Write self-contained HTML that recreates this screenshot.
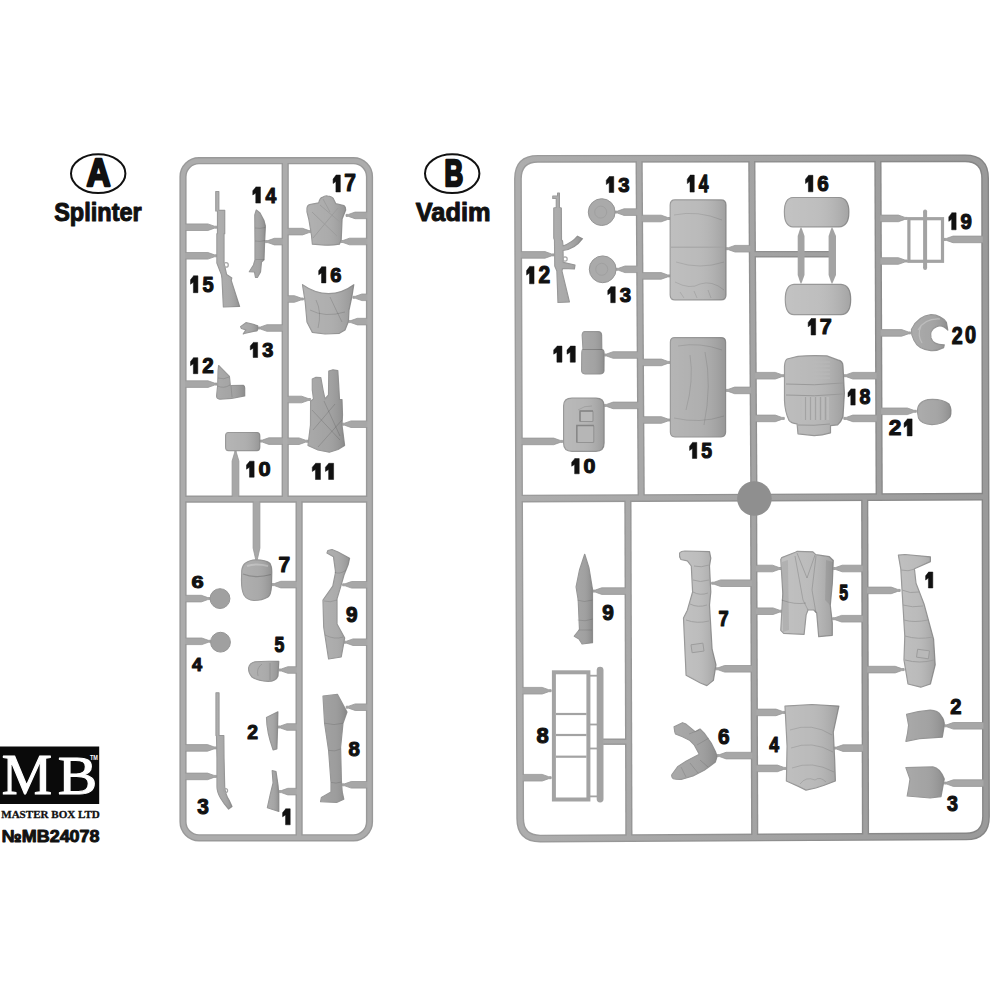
<!DOCTYPE html>
<html><head><meta charset="utf-8"><style>
html,body{margin:0;padding:0;background:#fff;width:1000px;height:1000px;overflow:hidden}
svg{display:block}
</style></head><body>
<svg width="1000" height="1000" viewBox="0 0 1000 1000">
<rect width="1000" height="1000" fill="#fff"/>
<defs><linearGradient id="ov" x1="0" y1="0" x2="1" y2="0"><stop offset="0" stop-color="#fff" stop-opacity="0.10"/><stop offset="0.45" stop-color="#fff" stop-opacity="0.04"/><stop offset="1" stop-color="#000" stop-opacity="0.13"/></linearGradient><linearGradient id="gdk" gradientUnits="userSpaceOnUse" x1="518" y1="0" x2="986" y2="0"><stop offset="0" stop-color="#9b9b9b"/><stop offset="1" stop-color="#858585"/></linearGradient><linearGradient id="glt" gradientUnits="userSpaceOnUse" x1="518" y1="0" x2="986" y2="0"><stop offset="0" stop-color="#adadad"/><stop offset="1" stop-color="#9a9a9a"/></linearGradient></defs><path d="M199.0,160.7 H353.5 A16.0,16.0 0 0 1 369.5,176.7 V821.8 A16.0,16.0 0 0 1 353.5,837.8 H199.0 A16.0,16.0 0 0 1 183.0,821.8 V176.7 A16.0,16.0 0 0 1 199.0,160.7 Z" fill="none" stroke="#999999" stroke-width="7.2"/><path d="M285.2,160.7 L285.2,499.1" fill="none" stroke="#999999" stroke-width="7.2"/><path d="M183.0,499.1 L369.5,499.1" fill="none" stroke="#999999" stroke-width="7.2"/><path d="M299.1,499.1 L299.1,837.8" fill="none" stroke="#999999" stroke-width="7.2"/><path d="M537.95,158.80 L965.10,158.30 Q985.10,158.30 985.10,178.30 L986.00,816.40 Q986.00,836.40 966.00,836.40 L540.20,838.60 Q520.20,838.60 520.20,818.60 L517.95,178.80 Q517.95,158.80 537.95,158.80 Z" fill="none" stroke="url(#gdk)" stroke-width="7.8"/><path d="M639.1,158.7 L641.2,498.1" fill="none" stroke="url(#gdk)" stroke-width="7.2"/><path d="M751.8,158.5 L753.9,497.7" fill="none" stroke="url(#gdk)" stroke-width="7.2"/><path d="M877.9,158.4 L879.2,497.1" fill="none" stroke="url(#gdk)" stroke-width="7.2"/><path d="M518.8,498.60 L985.6,496.70" fill="none" stroke="url(#gdk)" stroke-width="7.8"/><path d="M627.9,498.2 L628.9,838.1" fill="none" stroke="url(#gdk)" stroke-width="7.2"/><path d="M753.6,497.6 L754.7,837.5" fill="none" stroke="url(#gdk)" stroke-width="7.2"/><path d="M864.7,497.2 L865.5,837.0" fill="none" stroke="url(#gdk)" stroke-width="7.2"/><path d="M752.0,254.2 L832.0,254.2" fill="none" stroke="url(#gdk)" stroke-width="6.6"/><path d="M603.0,741.7 L628.0,741.7" fill="none" stroke="url(#gdk)" stroke-width="6.4"/>
<polygon fill="#a7a7a7" stroke="#979797" stroke-width="0.8" stroke-linejoin="round" points="232.1,499.0 232.1,461.0 234.8,452.0 234.8,451.0 236.2,451.0 236.2,452.0 238.9,461.0 238.9,499.0"/>
<polygon fill="#a7a7a7" stroke="#979797" stroke-width="0.8" stroke-linejoin="round" points="253.1,499.0 253.1,548.0 255.8,560.0 255.8,561.0 257.2,561.0 257.2,560.0 259.9,548.0 259.9,499.0"/>
<polygon fill="#a7a7a7" stroke="#979797" stroke-width="0.8" stroke-linejoin="round" points="183.0,223.9 207.9,223.9 214.4,226.2 216.9,226.2 216.9,228.2 214.4,228.2 207.9,230.5 183.0,230.5"/>
<polygon fill="#a7a7a7" stroke="#979797" stroke-width="0.8" stroke-linejoin="round" points="183.0,252.5 207.9,252.5 214.4,254.8 216.9,254.8 216.9,256.8 214.4,256.8 207.9,259.1 183.0,259.1"/>
<polygon fill="#a7a7a7" stroke="#979797" stroke-width="0.8" stroke-linejoin="round" points="285.0,238.3 274.4,238.3 267.9,240.6 265.4,240.6 265.4,242.6 267.9,242.6 274.4,244.9 285.0,244.9"/>
<polygon fill="#a7a7a7" stroke="#979797" stroke-width="0.8" stroke-linejoin="round" points="285.0,324.7 266.9,324.7 260.4,327.0 257.9,327.0 257.9,329.0 260.4,329.0 266.9,331.3 285.0,331.3"/>
<polygon fill="#a7a7a7" stroke="#979797" stroke-width="0.8" stroke-linejoin="round" points="183.0,380.8 208.0,380.8 214.5,383.1 217.0,383.1 217.0,385.1 214.5,385.1 208.0,387.4 183.0,387.4"/>
<polygon fill="#a7a7a7" stroke="#979797" stroke-width="0.8" stroke-linejoin="round" points="285.0,437.8 268.8,437.8 262.3,440.1 259.8,440.1 259.8,442.1 262.3,442.1 268.8,444.4 285.0,444.4"/>
<polygon fill="#a7a7a7" stroke="#979797" stroke-width="0.8" stroke-linejoin="round" points="285.0,228.3 302.5,228.3 309.0,230.6 311.5,230.6 311.5,232.6 309.0,232.6 302.5,234.9 285.0,234.9"/>
<polygon fill="#a7a7a7" stroke="#979797" stroke-width="0.8" stroke-linejoin="round" points="369.5,212.1 355.0,212.1 348.5,214.4 346.0,214.4 346.0,216.4 348.5,216.4 355.0,218.7 369.5,218.7"/>
<polygon fill="#a7a7a7" stroke="#979797" stroke-width="0.8" stroke-linejoin="round" points="369.5,238.2 349.5,238.2 343.0,240.5 340.5,240.5 340.5,242.5 343.0,242.5 349.5,244.8 369.5,244.8"/>
<polygon fill="#a7a7a7" stroke="#979797" stroke-width="0.8" stroke-linejoin="round" points="285.0,295.7 294.4,295.7 300.9,298.0 303.4,298.0 303.4,300.0 300.9,300.0 294.4,302.3 285.0,302.3"/>
<polygon fill="#a7a7a7" stroke="#979797" stroke-width="0.8" stroke-linejoin="round" points="369.5,294.0 361.9,294.0 355.4,296.3 352.9,296.3 352.9,298.3 355.4,298.3 361.9,300.6 369.5,300.6"/>
<polygon fill="#a7a7a7" stroke="#979797" stroke-width="0.8" stroke-linejoin="round" points="369.5,318.3 357.4,318.3 350.9,320.6 348.4,320.6 348.4,322.6 350.9,322.6 357.4,324.9 369.5,324.9"/>
<polygon fill="#a7a7a7" stroke="#979797" stroke-width="0.8" stroke-linejoin="round" points="285.0,396.2 301.6,396.2 308.1,398.5 310.6,398.5 310.6,400.5 308.1,400.5 301.6,402.8 285.0,402.8"/>
<polygon fill="#a7a7a7" stroke="#979797" stroke-width="0.8" stroke-linejoin="round" points="285.0,437.9 299.0,437.9 305.5,440.2 308.0,440.2 308.0,442.2 305.5,442.2 299.0,444.5 285.0,444.5"/>
<polygon fill="#a7a7a7" stroke="#979797" stroke-width="0.8" stroke-linejoin="round" points="369.5,420.9 351.0,420.9 344.5,423.2 342.0,423.2 342.0,425.2 344.5,425.2 351.0,427.5 369.5,427.5"/>
<polygon fill="#a7a7a7" stroke="#979797" stroke-width="0.8" stroke-linejoin="round" points="299.0,581.3 280.8,581.3 274.3,583.6 271.8,583.6 271.8,585.6 274.3,585.6 280.8,587.9 299.0,587.9"/>
<polygon fill="#a7a7a7" stroke="#979797" stroke-width="0.8" stroke-linejoin="round" points="183.0,595.3 201.3,595.3 207.8,597.6 210.3,597.6 210.3,599.6 207.8,599.6 201.3,601.9 183.0,601.9"/>
<polygon fill="#a7a7a7" stroke="#979797" stroke-width="0.8" stroke-linejoin="round" points="183.0,638.0 201.8,638.0 208.3,640.3 210.8,640.3 210.8,642.3 208.3,642.3 201.8,644.6 183.0,644.6"/>
<polygon fill="#a7a7a7" stroke="#979797" stroke-width="0.8" stroke-linejoin="round" points="299.0,666.7 287.8,666.7 281.3,669.0 278.8,669.0 278.8,671.0 281.3,671.0 287.8,673.3 299.0,673.3"/>
<polygon fill="#a7a7a7" stroke="#979797" stroke-width="0.8" stroke-linejoin="round" points="183.0,744.6 207.5,744.6 214.0,746.9 216.5,746.9 216.5,748.9 214.0,748.9 207.5,751.2 183.0,751.2"/>
<polygon fill="#a7a7a7" stroke="#979797" stroke-width="0.8" stroke-linejoin="round" points="183.0,773.1 207.5,773.1 214.0,775.4 216.5,775.4 216.5,777.4 214.0,777.4 207.5,779.7 183.0,779.7"/>
<polygon fill="#a7a7a7" stroke="#979797" stroke-width="0.8" stroke-linejoin="round" points="299.0,723.7 286.9,723.7 280.4,726.0 277.9,726.0 277.9,728.0 280.4,728.0 286.9,730.3 299.0,730.3"/>
<polygon fill="#a7a7a7" stroke="#979797" stroke-width="0.8" stroke-linejoin="round" points="299.0,788.3 287.8,788.3 281.3,790.6 278.8,790.6 278.8,792.6 281.3,792.6 287.8,794.9 299.0,794.9"/>
<polygon fill="#a7a7a7" stroke="#979797" stroke-width="0.8" stroke-linejoin="round" points="369.5,581.5 351.6,581.5 345.1,583.8 342.6,583.8 342.6,585.8 345.1,585.8 351.6,588.1 369.5,588.1"/>
<polygon fill="#a7a7a7" stroke="#979797" stroke-width="0.8" stroke-linejoin="round" points="369.5,638.9 353.0,638.9 346.5,641.2 344.0,641.2 344.0,643.2 346.5,643.2 353.0,645.5 369.5,645.5"/>
<polygon fill="#a7a7a7" stroke="#979797" stroke-width="0.8" stroke-linejoin="round" points="369.5,703.9 355.2,703.9 348.7,706.2 346.2,706.2 346.2,708.2 348.7,708.2 355.2,710.5 369.5,710.5"/>
<polygon fill="#a7a7a7" stroke="#979797" stroke-width="0.8" stroke-linejoin="round" points="369.5,781.5 351.2,781.5 344.7,783.8 342.2,783.8 342.2,785.8 344.7,785.8 351.2,788.1 369.5,788.1"/>
<polygon fill="#a7a7a7" stroke="#979797" stroke-width="0.8" stroke-linejoin="round" points="519.0,251.6 545.0,251.6 551.5,253.9 554.0,253.9 554.0,255.9 551.5,255.9 545.0,258.2 519.0,258.2"/>
<polygon fill="#a7a7a7" stroke="#979797" stroke-width="0.8" stroke-linejoin="round" points="641.0,208.8 624.0,208.8 617.5,211.1 615.0,211.1 615.0,213.1 617.5,213.1 624.0,215.4 641.0,215.4"/>
<polygon fill="#a7a7a7" stroke="#979797" stroke-width="0.8" stroke-linejoin="round" points="641.0,266.0 625.0,266.0 618.5,268.3 616.0,268.3 616.0,270.3 618.5,270.3 625.0,272.6 641.0,272.6"/>
<polygon fill="#a7a7a7" stroke="#979797" stroke-width="0.8" stroke-linejoin="round" points="641.0,351.7 613.1,351.7 606.6,354.0 604.1,354.0 604.1,356.0 606.6,356.0 613.1,358.3 641.0,358.3"/>
<polygon fill="#a7a7a7" stroke="#979797" stroke-width="0.8" stroke-linejoin="round" points="641.0,402.1 613.1,402.1 606.6,404.4 604.1,404.4 604.1,406.4 606.6,406.4 613.1,408.7 641.0,408.7"/>
<polygon fill="#a7a7a7" stroke="#979797" stroke-width="0.8" stroke-linejoin="round" points="519.0,438.1 553.7,438.1 560.2,440.4 562.7,440.4 562.7,442.4 560.2,442.4 553.7,444.7 519.0,444.7"/>
<polygon fill="#a7a7a7" stroke="#979797" stroke-width="0.8" stroke-linejoin="round" points="641.0,215.2 661.2,215.2 667.7,217.5 670.2,217.5 670.2,219.5 667.7,219.5 661.2,221.8 641.0,221.8"/>
<polygon fill="#a7a7a7" stroke="#979797" stroke-width="0.8" stroke-linejoin="round" points="641.0,272.6 661.2,272.6 667.7,274.9 670.2,274.9 670.2,276.9 667.7,276.9 661.2,279.2 641.0,279.2"/>
<polygon fill="#a7a7a7" stroke="#979797" stroke-width="0.8" stroke-linejoin="round" points="752.0,245.4 735.0,245.4 728.5,247.7 726.0,247.7 726.0,249.7 728.5,249.7 735.0,252.0 752.0,252.0"/>
<polygon fill="#a7a7a7" stroke="#979797" stroke-width="0.8" stroke-linejoin="round" points="641.0,359.1 661.4,359.1 667.9,361.4 670.4,361.4 670.4,363.4 667.9,363.4 661.4,365.7 641.0,365.7"/>
<polygon fill="#a7a7a7" stroke="#979797" stroke-width="0.8" stroke-linejoin="round" points="641.0,416.7 661.4,416.7 667.9,419.0 670.4,419.0 670.4,421.0 667.9,421.0 661.4,423.3 641.0,423.3"/>
<polygon fill="#a7a7a7" stroke="#979797" stroke-width="0.8" stroke-linejoin="round" points="752.0,387.1 734.6,387.1 728.1,389.4 725.6,389.4 725.6,391.4 728.1,391.4 734.6,393.7 752.0,393.7"/>
<polygon fill="#a7a7a7" stroke="#979797" stroke-width="0.8" stroke-linejoin="round" points="752.0,372.4 775.3,372.4 781.8,374.7 784.3,374.7 784.3,376.7 781.8,376.7 775.3,379.0 752.0,379.0"/>
<polygon fill="#a7a7a7" stroke="#979797" stroke-width="0.8" stroke-linejoin="round" points="752.0,415.1 775.3,415.1 781.8,417.4 784.3,417.4 784.3,419.4 781.8,419.4 775.3,421.7 752.0,421.7"/>
<polygon fill="#a7a7a7" stroke="#979797" stroke-width="0.8" stroke-linejoin="round" points="879.0,372.4 852.8,372.4 846.3,374.7 843.8,374.7 843.8,376.7 846.3,376.7 852.8,379.0 879.0,379.0"/>
<polygon fill="#a7a7a7" stroke="#979797" stroke-width="0.8" stroke-linejoin="round" points="879.0,415.1 852.8,415.1 846.3,417.4 843.8,417.4 843.8,419.4 846.3,419.4 852.8,421.7 879.0,421.7"/>
<polygon fill="#a7a7a7" stroke="#979797" stroke-width="0.8" stroke-linejoin="round" points="878.0,215.1 898.4,215.1 904.9,217.4 907.4,217.4 907.4,219.4 904.9,219.4 898.4,221.7 878.0,221.7"/>
<polygon fill="#a7a7a7" stroke="#979797" stroke-width="0.8" stroke-linejoin="round" points="878.0,257.7 898.4,257.7 904.9,260.0 907.4,260.0 907.4,262.0 904.9,262.0 898.4,264.3 878.0,264.3"/>
<polygon fill="#a7a7a7" stroke="#979797" stroke-width="0.8" stroke-linejoin="round" points="985.5,236.1 953.0,236.1 946.5,238.4 944.0,238.4 944.0,240.4 946.5,240.4 953.0,242.7 985.5,242.7"/>
<polygon fill="#a7a7a7" stroke="#979797" stroke-width="0.8" stroke-linejoin="round" points="878.0,329.6 901.7,329.6 908.2,331.9 910.7,331.9 910.7,333.9 908.2,333.9 901.7,336.2 878.0,336.2"/>
<polygon fill="#a7a7a7" stroke="#979797" stroke-width="0.8" stroke-linejoin="round" points="878.0,408.0 907.3,408.0 913.8,410.3 916.3,410.3 916.3,412.3 913.8,412.3 907.3,414.6 878.0,414.6"/>
<polygon fill="#a7a7a7" stroke="#979797" stroke-width="0.8" stroke-linejoin="round" points="628.0,587.8 601.7,587.8 595.2,590.1 592.7,590.1 592.7,592.1 595.2,592.1 601.7,594.4 628.0,594.4"/>
<polygon fill="#a7a7a7" stroke="#979797" stroke-width="0.8" stroke-linejoin="round" points="520.0,687.4 542.2,687.4 548.7,689.7 551.2,689.7 551.2,691.7 548.7,691.7 542.2,694.0 520.0,694.0"/>
<polygon fill="#a7a7a7" stroke="#979797" stroke-width="0.8" stroke-linejoin="round" points="520.0,774.4 542.2,774.4 548.7,776.7 551.2,776.7 551.2,778.7 548.7,778.7 542.2,781.0 520.0,781.0"/>
<polygon fill="#a7a7a7" stroke="#979797" stroke-width="0.8" stroke-linejoin="round" points="753.5,579.9 720.6,579.9 714.1,582.2 711.6,582.2 711.6,584.2 714.1,584.2 720.6,586.5 753.5,586.5"/>
<polygon fill="#a7a7a7" stroke="#979797" stroke-width="0.8" stroke-linejoin="round" points="753.5,665.5 724.6,665.5 718.1,667.8 715.6,667.8 715.6,669.8 718.1,669.8 724.6,672.1 753.5,672.1"/>
<polygon fill="#a7a7a7" stroke="#979797" stroke-width="0.8" stroke-linejoin="round" points="753.5,752.3 726.1,752.3 719.6,754.6 717.1,754.6 717.1,756.6 719.6,756.6 726.1,758.9 753.5,758.9"/>
<polygon fill="#a7a7a7" stroke="#979797" stroke-width="0.8" stroke-linejoin="round" points="753.5,565.2 772.5,565.2 779.0,567.5 781.5,567.5 781.5,569.5 779.0,569.5 772.5,571.8 753.5,571.8"/>
<polygon fill="#a7a7a7" stroke="#979797" stroke-width="0.8" stroke-linejoin="round" points="753.5,607.9 773.0,607.9 779.5,610.2 782.0,610.2 782.0,612.2 779.5,612.2 773.0,614.5 753.5,614.5"/>
<polygon fill="#a7a7a7" stroke="#979797" stroke-width="0.8" stroke-linejoin="round" points="865.0,565.2 842.2,565.2 835.7,567.5 833.2,567.5 833.2,569.5 835.7,569.5 842.2,571.8 865.0,571.8"/>
<polygon fill="#a7a7a7" stroke="#979797" stroke-width="0.8" stroke-linejoin="round" points="865.0,615.4 841.5,615.4 835.0,617.7 832.5,617.7 832.5,619.7 835.0,619.7 841.5,622.0 865.0,622.0"/>
<polygon fill="#a7a7a7" stroke="#979797" stroke-width="0.8" stroke-linejoin="round" points="753.5,709.1 776.0,709.1 782.5,711.4 785.0,711.4 785.0,713.4 782.5,713.4 776.0,715.7 753.5,715.7"/>
<polygon fill="#a7a7a7" stroke="#979797" stroke-width="0.8" stroke-linejoin="round" points="753.5,765.1 777.4,765.1 783.9,767.4 786.4,767.4 786.4,769.4 783.9,769.4 777.4,771.7 753.5,771.7"/>
<polygon fill="#a7a7a7" stroke="#979797" stroke-width="0.8" stroke-linejoin="round" points="865.0,744.8 843.0,744.8 836.5,747.1 834.0,747.1 834.0,749.1 836.5,749.1 843.0,751.4 865.0,751.4"/>
<polygon fill="#a7a7a7" stroke="#979797" stroke-width="0.8" stroke-linejoin="round" points="865.0,587.1 891.2,587.1 897.7,589.4 900.2,589.4 900.2,591.4 897.7,591.4 891.2,593.7 865.0,593.7"/>
<polygon fill="#a7a7a7" stroke="#979797" stroke-width="0.8" stroke-linejoin="round" points="865.0,666.3 895.2,666.3 901.7,668.6 904.2,668.6 904.2,670.6 901.7,670.6 895.2,672.9 865.0,672.9"/>
<polygon fill="#a7a7a7" stroke="#979797" stroke-width="0.8" stroke-linejoin="round" points="985.5,722.5 953.3,722.5 946.8,724.8 944.3,724.8 944.3,726.8 946.8,726.8 953.3,729.1 985.5,729.1"/>
<polygon fill="#a7a7a7" stroke="#979797" stroke-width="0.8" stroke-linejoin="round" points="985.5,779.8 953.3,779.8 946.8,782.1 944.3,782.1 944.3,784.1 946.8,784.1 953.3,786.4 985.5,786.4"/>
<path d="M199.0,160.7 H353.5 A16.0,16.0 0 0 1 369.5,176.7 V821.8 A16.0,16.0 0 0 1 353.5,837.8 H199.0 A16.0,16.0 0 0 1 183.0,821.8 V176.7 A16.0,16.0 0 0 1 199.0,160.7 Z" fill="none" stroke="#acacac" stroke-width="4.4"/><path d="M285.2,160.7 L285.2,499.1" fill="none" stroke="#acacac" stroke-width="4.4"/><path d="M183.0,499.1 L369.5,499.1" fill="none" stroke="#acacac" stroke-width="4.4"/><path d="M299.1,499.1 L299.1,837.8" fill="none" stroke="#acacac" stroke-width="4.4"/><path d="M537.95,158.80 L965.10,158.30 Q985.10,158.30 985.10,178.30 L986.00,816.40 Q986.00,836.40 966.00,836.40 L540.20,838.60 Q520.20,838.60 520.20,818.60 L517.95,178.80 Q517.95,158.80 537.95,158.80 Z" fill="none" stroke="url(#glt)" stroke-width="5.0"/><path d="M639.1,158.7 L641.2,498.1" fill="none" stroke="url(#glt)" stroke-width="4.4"/><path d="M751.8,158.5 L753.9,497.7" fill="none" stroke="url(#glt)" stroke-width="4.4"/><path d="M877.9,158.4 L879.2,497.1" fill="none" stroke="url(#glt)" stroke-width="4.4"/><path d="M518.8,498.60 L985.6,496.70" fill="none" stroke="url(#glt)" stroke-width="5.0"/><path d="M627.9,498.2 L628.9,838.1" fill="none" stroke="url(#glt)" stroke-width="4.4"/><path d="M753.6,497.6 L754.7,837.5" fill="none" stroke="url(#glt)" stroke-width="4.4"/><path d="M864.7,497.2 L865.5,837.0" fill="none" stroke="url(#glt)" stroke-width="4.4"/><path d="M752.0,254.2 L832.0,254.2" fill="none" stroke="url(#glt)" stroke-width="3.8"/><path d="M603.0,741.7 L628.0,741.7" fill="none" stroke="url(#glt)" stroke-width="3.6"/>
<ellipse cx="98.2" cy="173.6" rx="27.2" ry="19.4" fill="none" stroke="#111" stroke-width="2"/>
<text transform="translate(86.46,186.30) scale(0.3343,0.3855)" font-family='"Liberation Sans", sans-serif' font-weight="bold" font-size="100" fill="#111" stroke="#111" stroke-width="6.11" stroke-linejoin="round">A</text>
<text transform="translate(54.19,220.60) scale(0.2353,0.2524)" font-family='"Liberation Sans", sans-serif' font-weight="bold" font-size="100" fill="#111" stroke="#111" stroke-width="4.10" stroke-linejoin="round">Splinter</text>
<ellipse cx="452.2" cy="173.6" rx="27.2" ry="19.4" fill="none" stroke="#111" stroke-width="2"/>
<text transform="translate(444.42,186.30) scale(0.2590,0.3681)" font-family='"Liberation Sans", sans-serif' font-weight="bold" font-size="100" fill="#111" stroke="#111" stroke-width="7.02" stroke-linejoin="round">B</text>
<text transform="translate(415.85,220.84) scale(0.2537,0.2558)" font-family='"Liberation Sans", sans-serif' font-weight="bold" font-size="100" fill="#111" stroke="#111" stroke-width="3.93" stroke-linejoin="round">Vadim</text>
<rect x="0" y="746.5" width="99.2" height="57.5" fill="#0a0a0a"/>
<text transform="translate(1.85,793.95) scale(0.5651,0.5634)" font-family='"Liberation Serif", serif' font-weight="normal" font-size="100" fill="#fff" stroke="#fff" stroke-width="1.95" stroke-linejoin="round">M</text>
<text transform="translate(57.78,793.67) scale(0.5915,0.5591)" font-family='"Liberation Serif", serif' font-weight="normal" font-size="100" fill="#fff" stroke="#fff" stroke-width="1.91" stroke-linejoin="round">B</text>
<text transform="translate(89.95,760.00) scale(0.0549,0.0797)" font-family='"Liberation Sans", sans-serif' font-weight="bold" font-size="100" fill="#fff">TM</text>
<text transform="translate(1.18,817.96) scale(0.1108,0.0940)" font-family='"Liberation Serif", serif' font-weight="bold" font-size="100" fill="#111" stroke="#111" stroke-width="2.93" stroke-linejoin="round">MASTER BOX LTD</text>
<text transform="translate(1.73,842.13) scale(0.1796,0.1718)" font-family='"Liberation Sans", sans-serif' font-weight="bold" font-size="100" fill="#111" stroke="#111" stroke-width="5.69" stroke-linejoin="round">№MB24078</text>
<circle cx="754.4" cy="498.5" r="17.3" fill="#8f8f8f"/>
<polygon fill="#a7a7a7" stroke="#959595" stroke-width="1.2" stroke-linejoin="round" points="215.8,191.5 218.8,191.5 218.8,210.3 224.7,210.3 224.7,233.7 224.0,233.7 224.0,263.0 226.6,274.6 231.8,277.9 231.2,280.5 239.6,306.4 223.4,307.0 222.0,278.5 221.4,274.6 216.9,263.0 216.9,233.7 217.5,233.7 217.5,211.0 215.8,211.0"/>
<polygon fill="url(#ov)" points="215.8,191.5 218.8,191.5 218.8,210.3 224.7,210.3 224.7,233.7 224.0,233.7 224.0,263.0 226.6,274.6 231.8,277.9 231.2,280.5 239.6,306.4 223.4,307.0 222.0,278.5 221.4,274.6 216.9,263.0 216.9,233.7 217.5,233.7 217.5,211.0 215.8,211.0"/>
<circle cx="226" cy="264.9" r="2.3" fill="none" stroke="#a7a7a7" stroke-width="1.3"/>
<polygon fill="#a2a2a2" stroke="#959595" stroke-width="1.2" stroke-linejoin="round" points="256.3,210.0 260.0,213.0 264.0,220.6 265.4,226.0 264.5,245.0 264.0,259.8 261.5,262.0 260.5,272.0 257.5,277.3 255.5,277.5 254.5,272.0 249.3,271.7 253.5,265.0 255.0,260.0 255.0,240.0 254.8,215.0"/>
<polygon fill="url(#ov)" points="256.3,210.0 260.0,213.0 264.0,220.6 265.4,226.0 264.5,245.0 264.0,259.8 261.5,262.0 260.5,272.0 257.5,277.3 255.5,277.5 254.5,272.0 249.3,271.7 253.5,265.0 255.0,260.0 255.0,240.0 254.8,215.0"/>
<path d="M255,228 Q260,229 265.3,227.5 M255,241 Q260,242 265.3,240.5 M255.5,259.5 L264.5,259.5" fill="none" stroke="rgba(0,0,0,0.13)" stroke-width="0.9"/>
<polygon fill="#a4a4a4" stroke="#959595" stroke-width="1.2" stroke-linejoin="round" points="240.6,326.7 246.0,322.7 252.3,324.0 257.7,325.8 257.5,330.0 256.8,330.8 252.3,331.7 244.2,333.5 243.3,333.9 246.0,329.9 241.5,328.5"/>
<polygon fill="url(#ov)" points="240.6,326.7 246.0,322.7 252.3,324.0 257.7,325.8 257.5,330.0 256.8,330.8 252.3,331.7 244.2,333.5 243.3,333.9 246.0,329.9 241.5,328.5"/>
<path fill="#a1a1a1" stroke="#959595" stroke-width="1.2" stroke-linejoin="round" d="M218.6,365.5 L229.4,376.3 L230.3,385.5 L243.3,385.3 Q244.8,386 244.7,388 L244.7,396 L231.6,398.3 L219.9,399.2 Q216.5,398.5 216.6,396 L217.7,385.3 L218.1,370.9 Z" />
<path fill="url(#ov)" d="M218.6,365.5 L229.4,376.3 L230.3,385.5 L243.3,385.3 Q244.8,386 244.7,388 L244.7,396 L231.6,398.3 L219.9,399.2 Q216.5,398.5 216.6,396 L217.7,385.3 L218.1,370.9 Z"/>
<path d="M218,378 Q224,380 229,377 M217.5,386 Q224,389 230,385 M231,386 L232,397" fill="none" stroke="rgba(0,0,0,0.13)" stroke-width="0.9"/>
<path fill="#adadad" stroke="#959595" stroke-width="1.2" stroke-linejoin="round" d="M228.5,432.5 H257 Q259.8,432.5 259.8,436 V447 Q259.8,450.6 257,450.6 H228.5 Q225.6,450.6 225.6,447 V436 Q225.6,432.5 228.5,432.5 Z" />
<path fill="url(#ov)" d="M228.5,432.5 H257 Q259.8,432.5 259.8,436 V447 Q259.8,450.6 257,450.6 H228.5 Q225.6,450.6 225.6,447 V436 Q225.6,432.5 228.5,432.5 Z"/>
<path fill="#a9a9a9" stroke="#959595" stroke-width="1.2" stroke-linejoin="round" d="M307,208.2 Q307.5,205 309.7,204.6 L318.7,202.8 Q320,198 322.3,197.4 Q325,195.5 327.7,196 Q332,196.5 333.1,198.3 L335.8,203.7 L343.9,205.5 Q346,207 345.7,210 L342.1,219 L341.2,239.7 L339.4,244.2 Q332,245.5 325,245.1 L312.4,244.2 L311.5,235.2 L308.8,219 L307,211.8 Z" />
<path fill="url(#ov)" d="M307,208.2 Q307.5,205 309.7,204.6 L318.7,202.8 Q320,198 322.3,197.4 Q325,195.5 327.7,196 Q332,196.5 333.1,198.3 L335.8,203.7 L343.9,205.5 Q346,207 345.7,210 L342.1,219 L341.2,239.7 L339.4,244.2 Q332,245.5 325,245.1 L312.4,244.2 L311.5,235.2 L308.8,219 L307,211.8 Z"/>
<path d="M312,212 L337,236 M320,205 L340,222 M338,208 L313,238 M323,199 L330,212" fill="none" stroke="#9d9d9d" stroke-width="1"/>
<path fill="#acacac" stroke="#959595" stroke-width="1.2" stroke-linejoin="round" d="M302.5,284.7 Q315,293.5 328.6,293.7 Q342,293.5 353.8,284.7 L352,296 L349,310 L348.4,321.6 L345,330 L339.4,333.3 L325,334 L312.4,332.4 L307,322 L305.2,301.8 Z" />
<path fill="url(#ov)" d="M302.5,284.7 Q315,293.5 328.6,293.7 Q342,293.5 353.8,284.7 L352,296 L349,310 L348.4,321.6 L345,330 L339.4,333.3 L325,334 L312.4,332.4 L307,322 L305.2,301.8 Z"/>
<path d="M316,300 Q322,312 318,328 M330,297 Q336,310 342,322 M310,310 Q325,318 345,312" fill="none" stroke="rgba(0,0,0,0.13)" stroke-width="1"/>
<polygon fill="#a0a0a0" stroke="#959595" stroke-width="1.2" stroke-linejoin="round" points="312.3,379.0 316.0,377.4 320.8,377.6 323.4,392.0 325.0,399.0 328.5,395.0 328.8,371.0 333.0,369.8 337.8,370.6 338.7,385.0 339.5,399.5 342.0,399.5 342.5,415.0 342.0,425.0 344.6,445.4 338.0,449.5 329.3,452.2 318.0,450.0 308.0,445.4 310.5,425.0 310.6,401.2 313.5,399.0 312.3,390.0"/>
<polygon fill="url(#ov)" points="312.3,379.0 316.0,377.4 320.8,377.6 323.4,392.0 325.0,399.0 328.5,395.0 328.8,371.0 333.0,369.8 337.8,370.6 338.7,385.0 339.5,399.5 342.0,399.5 342.5,415.0 342.0,425.0 344.6,445.4 338.0,449.5 329.3,452.2 318.0,450.0 308.0,445.4 310.5,425.0 310.6,401.2 313.5,399.0 312.3,390.0"/>
<path d="M312,410 L340,440 M313,430 L335,404 M318,447 L342,420 M324,401 L340,436" fill="none" stroke="rgba(0,0,0,0.13)" stroke-width="1"/>
<path fill="#a7a7a7" stroke="#959595" stroke-width="1.2" stroke-linejoin="round" d="M245.3,563.3 Q250,559.8 255.8,559.8 Q266,559.8 269.8,563.3 Q271.8,566 271.8,572 L271.5,586 Q271,595 268,597 Q262,600.5 254,600.5 Q247,600 244,595 Q241.5,590 241.5,580 L241.8,570.3 Q242.5,565.5 245.3,563.3 Z" />
<path fill="url(#ov)" d="M245.3,563.3 Q250,559.8 255.8,559.8 Q266,559.8 269.8,563.3 Q271.8,566 271.8,572 L271.5,586 Q271,595 268,597 Q262,600.5 254,600.5 Q247,600 244,595 Q241.5,590 241.5,580 L241.8,570.3 Q242.5,565.5 245.3,563.3 Z"/>
<path d="M243,574 Q256,579 271,574.5" fill="none" stroke="rgba(0,0,0,0.18)" stroke-width="1.3"/>
<path d="M247,566 Q256,563 268,566" fill="none" stroke="rgba(255,255,255,0.25)" stroke-width="2"/>
<circle cx="220" cy="598.6" r="9.9" fill="#a0a0a0" stroke="#959595" stroke-width="1"/>
<circle cx="220.5" cy="642.2" r="9.9" fill="#a0a0a0" stroke="#959595" stroke-width="1"/>
<path fill="#a9a9a9" stroke="#959595" stroke-width="1.2" stroke-linejoin="round" d="M255,661.8 Q262,661 278.8,661.4 L278,676 Q276,681.4 268,681.4 Q258,681 252,677 Q248.4,673 248.6,668 Q249.5,663 255,661.8 Z" />
<path fill="url(#ov)" d="M255,661.8 Q262,661 278.8,661.4 L278,676 Q276,681.4 268,681.4 Q258,681 252,677 Q248.4,673 248.6,668 Q249.5,663 255,661.8 Z"/>
<path d="M262,664 Q256,668 258,676 M270,663 L270,680" fill="none" stroke="rgba(0,0,0,0.13)" stroke-width="0.9"/>
<path fill="#a5a5a5" stroke="#959595" stroke-width="1.2" stroke-linejoin="round" d="M216,692.8 L219,692.8 L219,735.5 L223.8,735.5 L224,758 L224.7,787 Q225.5,795 229,800 L232,806.5 L228.6,809 Q224,804 220.5,798 Q217,792 217,786.8 L217,758.3 L216.5,735.5 L216,735.5 Z" />
<path fill="url(#ov)" d="M216,692.8 L219,692.8 L219,735.5 L223.8,735.5 L224,758 L224.7,787 Q225.5,795 229,800 L232,806.5 L228.6,809 Q224,804 220.5,798 Q217,792 217,786.8 L217,758.3 L216.5,735.5 L216,735.5 Z"/>
<circle cx="225.6" cy="790.6" r="2" fill="none" stroke="#a5a5a5" stroke-width="1.2"/>
<polygon fill="#a3a3a3" stroke="#959595" stroke-width="1.2" stroke-linejoin="round" points="266.5,717.5 277.9,711.8 277.5,730.0 276.9,748.8 273.1,749.8 270.0,740.0 268.4,733.6 267.0,725.0"/>
<polygon fill="url(#ov)" points="266.5,717.5 277.9,711.8 277.5,730.0 276.9,748.8 273.1,749.8 270.0,740.0 268.4,733.6 267.0,725.0"/>
<polygon fill="#a3a3a3" stroke="#959595" stroke-width="1.2" stroke-linejoin="round" points="272.2,770.7 276.0,771.6 278.0,785.0 278.8,794.4 278.8,811.5 267.4,807.7 270.3,794.4 273.1,783.0"/>
<polygon fill="url(#ov)" points="272.2,770.7 276.0,771.6 278.0,785.0 278.8,794.4 278.8,811.5 267.4,807.7 270.3,794.4 273.1,783.0"/>
<polygon fill="#a8a8a8" stroke="#959595" stroke-width="1.2" stroke-linejoin="round" points="327.9,550.5 332.0,549.5 338.0,552.0 349.6,558.2 348.2,564.5 344.0,575.0 341.2,584.8 337.0,598.8 337.0,624.0 344.7,638.0 341.2,657.0 328.6,659.0 323.7,626.8 323.0,600.2 332.8,586.2 335.6,572.2 333.5,556.8 327.0,553.0"/>
<polygon fill="url(#ov)" points="327.9,550.5 332.0,549.5 338.0,552.0 349.6,558.2 348.2,564.5 344.0,575.0 341.2,584.8 337.0,598.8 337.0,624.0 344.7,638.0 341.2,657.0 328.6,659.0 323.7,626.8 323.0,600.2 332.8,586.2 335.6,572.2 333.5,556.8 327.0,553.0"/>
<path d="M334,572 Q340,575 346,570 M324,601 Q330,603 337,600 M325,635 Q335,640 343,637" fill="none" stroke="rgba(0,0,0,0.13)" stroke-width="0.9"/>
<polygon fill="#9a9a9a" stroke="#959595" stroke-width="1.2" stroke-linejoin="round" points="323.0,696.0 337.4,694.4 347.0,712.0 343.0,723.2 340.6,747.2 341.4,780.8 342.2,792.0 343.8,799.2 336.6,802.4 320.6,801.6 321.4,797.6 331.0,792.0 331.0,782.4 328.6,750.4 324.6,723.2"/>
<polygon fill="url(#ov)" points="323.0,696.0 337.4,694.4 347.0,712.0 343.0,723.2 340.6,747.2 341.4,780.8 342.2,792.0 343.8,799.2 336.6,802.4 320.6,801.6 321.4,797.6 331.0,792.0 331.0,782.4 328.6,750.4 324.6,723.2"/>
<path d="M324.6,723.2 Q334,726 343,723.2 M328.6,750.4 Q335,752 340.6,749 M331,782.4 Q336,784 341.4,782" fill="none" stroke="rgba(0,0,0,0.13)" stroke-width="0.9"/>
<polygon fill="#111" stroke="#111" stroke-width="0.5" stroke-linejoin="round" points="255.78,186.90 260.44,186.90 260.44,203.10 255.78,203.10 255.78,193.06 252.80,195.00 252.80,190.79 255.78,187.22"/>
<text transform="translate(265.39,202.55) scale(0.1938,0.2188)" font-family='"Liberation Sans", sans-serif' font-weight="bold" font-size="100" fill="#111" stroke="#111" stroke-width="5.33" stroke-linejoin="round">4</text>
<polygon fill="#111" stroke="#111" stroke-width="0.5" stroke-linejoin="round" points="193.39,275.80 197.92,275.80 197.92,292.70 193.39,292.70 193.39,282.22 190.50,284.25 190.50,279.86 193.39,276.14"/>
<text transform="translate(202.42,291.92) scale(0.2006,0.2257)" font-family='"Liberation Sans", sans-serif' font-weight="bold" font-size="100" fill="#111" stroke="#111" stroke-width="5.16" stroke-linejoin="round">5</text>
<polygon fill="#111" stroke="#111" stroke-width="0.5" stroke-linejoin="round" points="335.92,175.00 340.33,175.00 340.33,192.00 335.92,192.00 335.92,181.46 333.10,183.50 333.10,179.08 335.92,175.34"/>
<text transform="translate(344.37,191.45) scale(0.2094,0.2304)" font-family='"Liberation Sans", sans-serif' font-weight="bold" font-size="100" fill="#111" stroke="#111" stroke-width="5.00" stroke-linejoin="round">7</text>
<polygon fill="#111" stroke="#111" stroke-width="0.5" stroke-linejoin="round" points="321.52,266.80 325.93,266.80 325.93,282.90 321.52,282.90 321.52,272.92 318.70,274.85 318.70,270.66 321.52,267.12"/>
<text transform="translate(330.21,282.14) scale(0.2008,0.2113)" font-family='"Liberation Sans", sans-serif' font-weight="bold" font-size="100" fill="#111" stroke="#111" stroke-width="5.34" stroke-linejoin="round">6</text>
<polygon fill="#111" stroke="#111" stroke-width="0.5" stroke-linejoin="round" points="253.16,342.40 257.62,342.40 257.62,357.50 253.16,357.50 253.16,348.14 250.30,349.95 250.30,346.02 253.16,342.70"/>
<text transform="translate(262.17,356.75) scale(0.1997,0.1972)" font-family='"Liberation Sans", sans-serif' font-weight="bold" font-size="100" fill="#111" stroke="#111" stroke-width="5.54" stroke-linejoin="round">3</text>
<polygon fill="#111" stroke="#111" stroke-width="0.5" stroke-linejoin="round" points="193.36,357.70 197.82,357.70 197.82,373.70 193.36,373.70 193.36,363.78 190.50,365.70 190.50,361.54 193.36,358.02"/>
<text transform="translate(202.15,373.15) scale(0.2059,0.2129)" font-family='"Liberation Sans", sans-serif' font-weight="bold" font-size="100" fill="#111" stroke="#111" stroke-width="5.25" stroke-linejoin="round">2</text>
<polygon fill="#111" stroke="#111" stroke-width="0.5" stroke-linejoin="round" points="249.48,461.20 254.14,461.20 254.14,477.20 249.48,477.20 249.48,467.28 246.50,469.20 246.50,465.04 249.48,461.52"/>
<text transform="translate(258.51,476.44) scale(0.2182,0.2099)" font-family='"Liberation Sans", sans-serif' font-weight="bold" font-size="100" fill="#111" stroke="#111" stroke-width="5.14" stroke-linejoin="round">0</text>
<polygon fill="#111" stroke="#111" stroke-width="0.5" stroke-linejoin="round" points="315.48,463.30 320.45,463.30 320.45,479.50 315.48,479.50 315.48,469.46 312.30,471.40 312.30,467.19 315.48,463.62"/>
<polygon fill="#111" stroke="#111" stroke-width="0.5" stroke-linejoin="round" points="328.63,463.30 333.60,463.30 333.60,479.50 328.63,479.50 328.63,469.46 325.45,471.40 325.45,467.19 328.63,463.62"/>
<text transform="translate(278.61,572.35) scale(0.2086,0.2174)" font-family='"Liberation Sans", sans-serif' font-weight="bold" font-size="100" fill="#111" stroke="#111" stroke-width="5.16" stroke-linejoin="round">7</text>
<text transform="translate(191.49,588.38) scale(0.2186,0.1732)" font-family='"Liberation Sans", sans-serif' font-weight="bold" font-size="100" fill="#111" stroke="#111" stroke-width="5.62" stroke-linejoin="round">6</text>
<text transform="translate(191.98,671.35) scale(0.1813,0.1913)" font-family='"Liberation Sans", sans-serif' font-weight="bold" font-size="100" fill="#111" stroke="#111" stroke-width="5.90" stroke-linejoin="round">4</text>
<text transform="translate(274.52,652.24) scale(0.1760,0.2143)" font-family='"Liberation Sans", sans-serif' font-weight="bold" font-size="100" fill="#111" stroke="#111" stroke-width="5.64" stroke-linejoin="round">5</text>
<text transform="translate(247.37,738.75) scale(0.1937,0.2000)" font-family='"Liberation Sans", sans-serif' font-weight="bold" font-size="100" fill="#111" stroke="#111" stroke-width="5.59" stroke-linejoin="round">2</text>
<text transform="translate(197.13,813.63) scale(0.2081,0.2239)" font-family='"Liberation Sans", sans-serif' font-weight="bold" font-size="100" fill="#111" stroke="#111" stroke-width="5.09" stroke-linejoin="round">3</text>
<polygon fill="#111" stroke="#111" stroke-width="0.5" stroke-linejoin="round" points="285.56,808.80 290.20,808.80 290.20,824.80 285.56,824.80 285.56,814.88 282.60,816.80 282.60,812.64 285.56,809.12"/>
<text transform="translate(345.92,621.83) scale(0.2082,0.2225)" font-family='"Liberation Sans", sans-serif' font-weight="bold" font-size="100" fill="#111" stroke="#111" stroke-width="5.11" stroke-linejoin="round">9</text>
<text transform="translate(348.54,756.04) scale(0.2040,0.2099)" font-family='"Liberation Sans", sans-serif' font-weight="bold" font-size="100" fill="#111" stroke="#111" stroke-width="5.32" stroke-linejoin="round">8</text>
<path fill="#a5a5a5" stroke="#959595" stroke-width="1.2" stroke-linejoin="round" d="M557.6,193.2 L559.4,193.2 L559.4,207.5 L561.3,208 L561.5,240 L562.5,241 L563,246 Q572,243 577.5,236.2 L582.5,238.7 Q575,249 563,250.5 L563.2,262.3 L575,265 L574.4,268.8 L562.5,268.5 L561.9,271 L569.4,301.9 L558,302.5 L556.9,271 L554.8,266 L554.5,240 L553.8,238 L553.8,208 L556.3,207.5 L556.3,198.5 L552.8,198.5 L552.8,196 L557.6,196 Z" />
<path fill="url(#ov)" d="M557.6,193.2 L559.4,193.2 L559.4,207.5 L561.3,208 L561.5,240 L562.5,241 L563,246 Q572,243 577.5,236.2 L582.5,238.7 Q575,249 563,250.5 L563.2,262.3 L575,265 L574.4,268.8 L562.5,268.5 L561.9,271 L569.4,301.9 L558,302.5 L556.9,271 L554.8,266 L554.5,240 L553.8,238 L553.8,208 L556.3,207.5 L556.3,198.5 L552.8,198.5 L552.8,196 L557.6,196 Z"/>
<circle cx="565" cy="259" r="2.2" fill="none" stroke="#a5a5a5" stroke-width="1.2"/>
<circle cx="601.7" cy="212.1" r="13.4" fill="#aaaaaa" stroke="#959595" stroke-width="1"/>
<circle cx="600.7" cy="212.1" r="6" fill="none" stroke="#a0a0a0" stroke-width="1"/>
<circle cx="602.7" cy="269.3" r="13.4" fill="#aaaaaa" stroke="#959595" stroke-width="1"/>
<circle cx="601.7" cy="269.3" r="6" fill="none" stroke="#a0a0a0" stroke-width="1"/>
<path fill="#a0a0a0" stroke="#959595" stroke-width="1.2" stroke-linejoin="round" d="M585,331.6 H598 Q601.4,331.8 601.6,335 L601.8,349 Q604.1,350 604.1,353 L604,371 Q603.5,373.9 600,373.9 H585 Q581.6,373.6 581.6,370 L581.8,353 Q582,349.5 583,349 L582.2,335 Q582.5,331.8 585,331.6 Z" />
<path fill="url(#ov)" d="M585,331.6 H598 Q601.4,331.8 601.6,335 L601.8,349 Q604.1,350 604.1,353 L604,371 Q603.5,373.9 600,373.9 H585 Q581.6,373.6 581.6,370 L581.8,353 Q582,349.5 583,349 L582.2,335 Q582.5,331.8 585,331.6 Z"/>
<path d="M583,349.5 H602" fill="none" stroke="rgba(0,0,0,0.2)" stroke-width="1"/>
<path fill="#b2b2b2" stroke="#959595" stroke-width="1.2" stroke-linejoin="round" d="M572,398.2 H596 Q604.1,398.2 604.1,406 V443 Q604.1,451.3 596,451.3 H572 Q563.6,451.3 563.6,443 V406 Q563.6,398.2 572,398.2 Z" />
<path fill="url(#ov)" d="M572,398.2 H596 Q604.1,398.2 604.1,406 V443 Q604.1,451.3 596,451.3 H572 Q563.6,451.3 563.6,443 V406 Q563.6,398.2 572,398.2 Z"/>
<rect x="580" y="411" width="13" height="10.5" rx="1" fill="#b9b9b9" stroke="#939393" stroke-width="1.1"/>
<rect x="576.8" y="425.5" width="17" height="17" rx="1" fill="#b6b6b6" stroke="#939393" stroke-width="1.1"/>
<path d="M580,421.5 V411 H593 M576.8,442.5 V425.5 H593.8" fill="none" stroke="#858585" stroke-width="1.3"/>
<path d="M578,410 Q584,405.5 592,406" fill="none" stroke="rgba(0,0,0,0.12)" stroke-width="0.9"/>
<path fill="#b8b8b8" stroke="#959595" stroke-width="1.2" stroke-linejoin="round" d="M675,199.9 H721 Q726,199.9 726,205 V295 Q726,299.9 721,299.9 H675 Q670.2,299.9 670.2,295 V205 Q670.2,199.9 675,199.9 Z" />
<path fill="url(#ov)" d="M675,199.9 H721 Q726,199.9 726,205 V295 Q726,299.9 721,299.9 H675 Q670.2,299.9 670.2,295 V205 Q670.2,199.9 675,199.9 Z"/>
<line x1="671" y1="247.2" x2="725" y2="247.2" stroke="#a2a2a2" stroke-width="1"/>
<path d="M674,215 Q698,210 722,220 M676,262 Q700,270 724,262 M675,282 Q690,290 700,284 Q712,280 724,290 M680,292 L684,298 M694,291 L697,298 M708,290 L711,298" fill="none" stroke="rgba(0,0,0,0.13)" stroke-width="0.8"/>
<path fill="#adadad" stroke="#959595" stroke-width="1.2" stroke-linejoin="round" d="M675,337.6 H721 Q725.6,337.6 725.6,342 V432 Q725.6,436.8 721,436.8 H675 Q670.4,436.8 670.4,432 V342 Q670.4,337.6 675,337.6 Z" />
<path fill="url(#ov)" d="M675,337.6 H721 Q725.6,337.6 725.6,342 V432 Q725.6,436.8 721,436.8 H675 Q670.4,436.8 670.4,432 V342 Q670.4,337.6 675,337.6 Z"/>
<path d="M678,346 Q700,342 722,350 M690,355 Q694,380 686,410 M705,352 Q712,385 704,425 M674,418 Q700,424 724,416" fill="none" stroke="rgba(0,0,0,0.13)" stroke-width="0.8"/>
<polygon fill="#a3a3a3" points="801,227 802,229 804.5,236 804.5,275 802,282 801,284 800,282 797.7,275 797.7,236 800,229"/>
<polygon fill="#a3a3a3" points="832,227 833,229 836,236 836,275 833,282 832,284 831,282 828.6,275 828.6,236 831,229"/>
<path fill="#bcbcbc" stroke="#959595" stroke-width="1.2" stroke-linejoin="round" d="M793,197.5 H839 Q848.9,198 848.9,212 Q848.9,226.5 839,226.9 H793 Q784.4,226.5 784.4,212 Q784.4,198 793,197.5 Z" />
<path fill="url(#ov)" d="M793,197.5 H839 Q848.9,198 848.9,212 Q848.9,226.5 839,226.9 H793 Q784.4,226.5 784.4,212 Q784.4,198 793,197.5 Z"/>
<path fill="#bcbcbc" stroke="#959595" stroke-width="1.2" stroke-linejoin="round" d="M794,284.4 H841 Q850.7,285 850.7,299.5 Q850.7,314.3 841,314.7 H794 Q785.3,314.3 785.3,299.5 Q785.3,285 794,284.4 Z" />
<path fill="url(#ov)" d="M794,284.4 H841 Q850.7,285 850.7,299.5 Q850.7,314.3 841,314.7 H794 Q785.3,314.3 785.3,299.5 Q785.3,285 794,284.4 Z"/>
<path fill="#b6b6b6" stroke="#959595" stroke-width="1.2" stroke-linejoin="round" d="M798,356.3 Q812,355 826.8,355.9 L837.7,359.9 Q843,361 843,366 L844.4,393.2 L843,416.7 Q841,422 837.7,424.8 L830.5,425.7 L830.5,432.9 Q822,435.5 814.2,435.6 L798,433.8 L797.1,423.9 Q791,423 789,420.3 Q785,412 784.5,400.5 L784.5,366.2 Q785,360 787.2,359 Z" />
<path fill="url(#ov)" d="M798,356.3 Q812,355 826.8,355.9 L837.7,359.9 Q843,361 843,366 L844.4,393.2 L843,416.7 Q841,422 837.7,424.8 L830.5,425.7 L830.5,432.9 Q822,435.5 814.2,435.6 L798,433.8 L797.1,423.9 Q791,423 789,420.3 Q785,412 784.5,400.5 L784.5,366.2 Q785,360 787.2,359 Z"/>
<line x1="800" y1="362" x2="830" y2="362" stroke="#bababa" stroke-width="0.9"/>
<line x1="800" y1="366" x2="830" y2="366" stroke="#bababa" stroke-width="0.9"/>
<line x1="800" y1="370" x2="830" y2="370" stroke="#bababa" stroke-width="0.9"/>
<line x1="800" y1="374" x2="830" y2="374" stroke="#bababa" stroke-width="0.9"/>
<line x1="800" y1="378" x2="830" y2="378" stroke="#bababa" stroke-width="0.9"/>
<path d="M786,384 Q814,386 843,383 M786,395 Q814,397 843,394" fill="none" stroke="#9a9a9a" stroke-width="1"/>
<line x1="803" y1="397" x2="803" y2="420" stroke="#bdbdbd" stroke-width="1.6"/>
<line x1="808" y1="397" x2="808" y2="420" stroke="#bdbdbd" stroke-width="1.6"/>
<line x1="813" y1="397" x2="813" y2="420" stroke="#bdbdbd" stroke-width="1.6"/>
<line x1="818" y1="397" x2="818" y2="420" stroke="#bdbdbd" stroke-width="1.6"/>
<line x1="823" y1="397" x2="823" y2="420" stroke="#bdbdbd" stroke-width="1.6"/>
<line x1="828" y1="397" x2="828" y2="420" stroke="#bdbdbd" stroke-width="1.6"/>
<line x1="805.5" y1="397" x2="805.5" y2="420" stroke="#9d9d9d" stroke-width="0.8"/>
<line x1="810.5" y1="397" x2="810.5" y2="420" stroke="#9d9d9d" stroke-width="0.8"/>
<line x1="815.5" y1="397" x2="815.5" y2="420" stroke="#9d9d9d" stroke-width="0.8"/>
<line x1="820.5" y1="397" x2="820.5" y2="420" stroke="#9d9d9d" stroke-width="0.8"/>
<line x1="825.5" y1="397" x2="825.5" y2="420" stroke="#9d9d9d" stroke-width="0.8"/>
<path d="M798,425 Q814,426 830,424" fill="none" stroke="#999" stroke-width="1"/>
<rect x="908.9" y="218.7" width="33.6" height="42.6" fill="none" stroke="#a3a3a3" stroke-width="3.2"/>
<line x1="925.1" y1="211.5" x2="925.1" y2="268.0" stroke="#a3a3a3" stroke-width="4.0"/>
<circle cx="925.1" cy="211.5" r="2" fill="#a3a3a3"/><circle cx="925.1" cy="268" r="2" fill="#a3a3a3"/>
<path fill="#a2a2a2" stroke="#959595" stroke-width="1.2" stroke-linejoin="round" d="M911.4,329.4 Q918,316 931,314.7 Q941,315 946.4,322.4 L947.8,330.1 Q942,324 936.6,326.6 Q929,330 931,338 Q933,345 944.3,344.8 L943.6,347.6 Q936,351.5 929.6,350.4 Q918,349 914.2,340.6 Q911,335 911.4,329.4 Z" />
<path fill="url(#ov)" d="M911.4,329.4 Q918,316 931,314.7 Q941,315 946.4,322.4 L947.8,330.1 Q942,324 936.6,326.6 Q929,330 931,338 Q933,345 944.3,344.8 L943.6,347.6 Q936,351.5 929.6,350.4 Q918,349 914.2,340.6 Q911,335 911.4,329.4 Z"/>
<path d="M918,330 Q925,318 940,319 M922,343 Q917,335 921,326" fill="none" stroke="#bdbdbd" stroke-width="1.2"/>
<path fill="#a3a3a3" stroke="#959595" stroke-width="1.2" stroke-linejoin="round" d="M917.5,412 Q917,402 928,399.6 Q942,398.5 949,404 Q952.5,410 950,417 Q944,424.5 932,424.6 Q921,424 918.5,418 Z" />
<path fill="url(#ov)" d="M917.5,412 Q917,402 928,399.6 Q942,398.5 949,404 Q952.5,410 950,417 Q944,424.5 932,424.6 Q921,424 918.5,418 Z"/>
<polygon fill="#9e9e9e" stroke="#959595" stroke-width="1.2" stroke-linejoin="round" points="584.7,554.3 589.0,568.0 592.5,589.4 592.5,625.8 592.5,642.7 582.1,644.0 579.0,639.0 574.3,636.2 579.5,629.7 578.2,599.8 576.1,586.8 579.5,570.0"/>
<polygon fill="url(#ov)" points="584.7,554.3 589.0,568.0 592.5,589.4 592.5,625.8 592.5,642.7 582.1,644.0 579.0,639.0 574.3,636.2 579.5,629.7 578.2,599.8 576.1,586.8 579.5,570.0"/>
<path d="M577,600 Q584,603 592.5,600 M577.5,620 Q585,622 592.7,619 M578,630 L592,630" fill="none" stroke="rgba(0,0,0,0.13)" stroke-width="0.9"/>
<rect x="553.9" y="672.3" width="34.5" height="127.2" fill="none" stroke="#a3a3a3" stroke-width="4"/>
<line x1="556.0" y1="714.0" x2="586.5" y2="714.0" stroke="#a3a3a3" stroke-width="2.2"/>
<line x1="556.0" y1="735.0" x2="586.5" y2="735.0" stroke="#a3a3a3" stroke-width="2.2"/>
<line x1="556.0" y1="756.7" x2="586.5" y2="756.7" stroke="#a3a3a3" stroke-width="2.2"/>
<line x1="590.0" y1="675.7" x2="597.0" y2="675.7" stroke="#a3a3a3" stroke-width="1.8"/>
<line x1="590.0" y1="724.5" x2="597.0" y2="724.5" stroke="#a3a3a3" stroke-width="1.8"/>
<line x1="590.0" y1="748.5" x2="597.0" y2="748.5" stroke="#a3a3a3" stroke-width="1.8"/>
<line x1="590.0" y1="796.4" x2="597.0" y2="796.4" stroke="#a3a3a3" stroke-width="1.8"/>
<rect x="596.7" y="666.7" width="6.8" height="135.7" rx="3.4" fill="#a3a3a3"/>
<path fill="#bbbbbb" stroke="#959595" stroke-width="1.2" stroke-linejoin="round" d="M679.6,553 Q681,551 684.8,551 L709.5,551.7 L710.8,558.2 L709.5,566 L710.8,592 L709.5,605 L712.1,649.2 L716,664.8 L713.4,680.4 L706.9,685.6 L700.4,683 L686.1,675.2 L683.5,618 L687.4,610.2 L692.6,592 L691.3,566 L687.4,560.8 L680.9,559.5 Q679,557 679.6,553 Z" />
<path fill="url(#ov)" d="M679.6,553 Q681,551 684.8,551 L709.5,551.7 L710.8,558.2 L709.5,566 L710.8,592 L709.5,605 L712.1,649.2 L716,664.8 L713.4,680.4 L706.9,685.6 L700.4,683 L686.1,675.2 L683.5,618 L687.4,610.2 L692.6,592 L691.3,566 L687.4,560.8 L680.9,559.5 Q679,557 679.6,553 Z"/>
<path d="M694,566 Q701,568 709,565 M693,580 Q700,583 709,580 M693,592 Q700,596 708,593 M690,604 Q698,608 707,605 M686,620 Q697,624 709,621" fill="none" stroke="#9d9d9d" stroke-width="0.9"/>
<rect x="691.5" y="644" width="12" height="8" fill="#b9b9b9" stroke="#9a9a9a" stroke-width="0.9" transform="rotate(-8 697 648)"/>
<path fill="#a0a0a0" stroke="#959595" stroke-width="1.2" stroke-linejoin="round" d="M674.1,726.9 L682.5,722.7 L686,724.1 L695.1,731.8 L700,729 L704.2,733.2 L711.2,743 L715.4,751.4 L717.1,756.3 L715.4,761.9 Q710,766 704.2,770.3 L693,775.9 L681.1,779.4 Q676,779.5 673.4,778.7 Q671,776.5 672,774.5 L677.6,766.8 L686,761.2 L699.3,754.2 L694.4,745.1 L689.5,740.2 L682.5,736.7 L675.5,733.9 L674.8,731.8 Z" />
<path fill="url(#ov)" d="M674.1,726.9 L682.5,722.7 L686,724.1 L695.1,731.8 L700,729 L704.2,733.2 L711.2,743 L715.4,751.4 L717.1,756.3 L715.4,761.9 Q710,766 704.2,770.3 L693,775.9 L681.1,779.4 Q676,779.5 673.4,778.7 Q671,776.5 672,774.5 L677.6,766.8 L686,761.2 L699.3,754.2 L694.4,745.1 L689.5,740.2 L682.5,736.7 L675.5,733.9 L674.8,731.8 Z"/>
<path d="M689,734 L699,730 M697,745 L709,738 M690,763 L698,773 M681,767 L686,777 M700,760 L708,767" fill="none" stroke="rgba(0,0,0,0.13)" stroke-width="0.9"/>
<polygon fill="#bababa" stroke="#959595" stroke-width="1.2" stroke-linejoin="round" points="780.8,559.6 781.8,557.6 795.4,552.3 797.3,551.3 812.9,551.8 815.8,554.7 829.4,556.7 833.3,560.5 832.3,583.8 830.3,605.2 832.3,622.7 832.3,635.3 818.7,636.7 816.7,613.0 813.8,610.0 808.0,610.0 806.1,614.9 804.1,634.3 783.7,633.3 780.8,630.4 782.8,593.5"/>
<polygon fill="url(#ov)" points="780.8,559.6 781.8,557.6 795.4,552.3 797.3,551.3 812.9,551.8 815.8,554.7 829.4,556.7 833.3,560.5 832.3,583.8 830.3,605.2 832.3,622.7 832.3,635.3 818.7,636.7 816.7,613.0 813.8,610.0 808.0,610.0 806.1,614.9 804.1,634.3 783.7,633.3 780.8,630.4 782.8,593.5"/>
<path d="M797,553 L807,578 L815,555 M795,556 L803,600 L808,610 M816,556 L812,590 L816,613 M781.5,600 Q795,605 806,603" fill="none" stroke="rgba(0,0,0,0.15)" stroke-width="1"/>
<path d="M782,562 L788,560 L789,630 L783,632 Z M833,562 L826,560 L825,600 L830,605 Z" fill="rgba(0,0,0,0.08)"/>
<polygon fill="#b8b8b8" stroke="#959595" stroke-width="1.2" stroke-linejoin="round" points="785.0,706.1 812.0,704.5 838.9,706.1 833.3,732.0 834.7,760.0 835.4,781.0 824.2,785.2 815.8,788.0 806.0,790.1 799.0,786.6 786.4,781.0 787.1,746.0"/>
<polygon fill="url(#ov)" points="785.0,706.1 812.0,704.5 838.9,706.1 833.3,732.0 834.7,760.0 835.4,781.0 824.2,785.2 815.8,788.0 806.0,790.1 799.0,786.6 786.4,781.0 787.1,746.0"/>
<path d="M790,730 Q812,722 832,735 M791,748 Q812,740 833,752 M792,768 Q812,760 834,772 M800,784 Q806,776 815,780 Q820,776 826,782" fill="none" stroke="rgba(0,0,0,0.13)" stroke-width="0.9"/>
<polygon fill="#b9b9b9" stroke="#959595" stroke-width="1.2" stroke-linejoin="round" points="898.4,555.2 905.0,554.5 930.4,556.8 930.4,561.6 914.4,568.8 916.0,583.2 924.0,604.0 933.6,639.2 935.2,664.8 930.4,684.0 920.8,687.2 908.0,684.0 904.0,660.0 904.8,636.0 902.4,596.0 900.8,568.8"/>
<polygon fill="url(#ov)" points="898.4,555.2 905.0,554.5 930.4,556.8 930.4,561.6 914.4,568.8 916.0,583.2 924.0,604.0 933.6,639.2 935.2,664.8 930.4,684.0 920.8,687.2 908.0,684.0 904.0,660.0 904.8,636.0 902.4,596.0 900.8,568.8"/>
<path d="M901,570 Q908,572 915,569 M902,590 Q910,594 919,592 M903,605 Q912,608 923,606 M904,620 Q914,623 928,620 M905,636 Q918,640 933,637" fill="none" stroke="#9d9d9d" stroke-width="0.9"/>
<rect x="917" y="650" width="12" height="8" fill="#b9b9b9" stroke="#9a9a9a" stroke-width="0.9" transform="rotate(8 923 654)"/>
<path d="M905,660 Q920,664 934,660" fill="none" stroke="#9d9d9d" stroke-width="1"/>
<path fill="#a0a0a0" stroke="#959595" stroke-width="1.2" stroke-linejoin="round" d="M906.6,714.3 Q918,711 930.2,710.2 Q938,710.5 941,715.6 Q944.5,720 944.3,725.1 L942.3,737.2 L919.4,738.6 L905.9,741.3 Q908,733 908.6,725.1 Z" />
<path fill="url(#ov)" d="M906.6,714.3 Q918,711 930.2,710.2 Q938,710.5 941,715.6 Q944.5,720 944.3,725.1 L942.3,737.2 L919.4,738.6 L905.9,741.3 Q908,733 908.6,725.1 Z"/>
<path fill="#a0a0a0" stroke="#959595" stroke-width="1.2" stroke-linejoin="round" d="M905.9,767.6 L932.9,766.9 Q940,768 944.3,779 L941,796.6 L930.2,798 L907.2,796 Q909,787 910,779 Z" />
<path fill="url(#ov)" d="M905.9,767.6 L932.9,766.9 Q940,768 944.3,779 L941,796.6 L930.2,798 L907.2,796 Q909,787 910,779 Z"/>
<polygon fill="#111" stroke="#111" stroke-width="0.5" stroke-linejoin="round" points="609.21,176.50 613.75,176.50 613.75,192.50 609.21,192.50 609.21,182.58 606.30,184.50 606.30,180.34 609.21,176.82"/>
<text transform="translate(618.36,191.74) scale(0.2036,0.2099)" font-family='"Liberation Sans", sans-serif' font-weight="bold" font-size="100" fill="#111" stroke="#111" stroke-width="5.32" stroke-linejoin="round">3</text>
<polygon fill="#111" stroke="#111" stroke-width="0.5" stroke-linejoin="round" points="610.71,286.70 615.25,286.70 615.25,302.70 610.71,302.70 610.71,292.78 607.80,294.70 607.80,290.54 610.71,287.02"/>
<text transform="translate(619.86,301.94) scale(0.2036,0.2099)" font-family='"Liberation Sans", sans-serif' font-weight="bold" font-size="100" fill="#111" stroke="#111" stroke-width="5.32" stroke-linejoin="round">3</text>
<polygon fill="#111" stroke="#111" stroke-width="0.5" stroke-linejoin="round" points="529.51,266.40 534.05,266.40 534.05,283.80 529.51,283.80 529.51,273.01 526.60,275.10 526.60,270.58 529.51,266.75"/>
<text transform="translate(538.44,283.25) scale(0.2099,0.2329)" font-family='"Liberation Sans", sans-serif' font-weight="bold" font-size="100" fill="#111" stroke="#111" stroke-width="4.97" stroke-linejoin="round">2</text>
<polygon fill="#111" stroke="#111" stroke-width="0.5" stroke-linejoin="round" points="556.92,346.10 561.96,346.10 561.96,362.20 556.92,362.20 556.92,352.22 553.70,354.15 553.70,349.96 556.92,346.42"/>
<polygon fill="#111" stroke="#111" stroke-width="0.5" stroke-linejoin="round" points="570.26,346.10 575.30,346.10 575.30,362.20 570.26,362.20 570.26,352.22 567.04,354.15 567.04,349.96 570.26,346.42"/>
<polygon fill="#111" stroke="#111" stroke-width="0.5" stroke-linejoin="round" points="574.63,458.60 579.22,458.60 579.22,473.80 574.63,473.80 574.63,464.38 571.70,466.20 571.70,462.25 574.63,458.90"/>
<text transform="translate(583.52,473.05) scale(0.2142,0.1986)" font-family='"Liberation Sans", sans-serif' font-weight="bold" font-size="100" fill="#111" stroke="#111" stroke-width="5.33" stroke-linejoin="round">0</text>
<polygon fill="#111" stroke="#111" stroke-width="0.5" stroke-linejoin="round" points="690.02,175.10 694.27,175.10 694.27,192.10 690.02,192.10 690.02,181.56 687.30,183.60 687.30,179.18 690.02,175.44"/>
<text transform="translate(698.83,191.55) scale(0.1748,0.2304)" font-family='"Liberation Sans", sans-serif' font-weight="bold" font-size="100" fill="#111" stroke="#111" stroke-width="5.43" stroke-linejoin="round">4</text>
<polygon fill="#111" stroke="#111" stroke-width="0.5" stroke-linejoin="round" points="692.41,442.40 696.79,442.40 696.79,458.40 692.41,458.40 692.41,448.48 689.60,450.40 689.60,446.24 692.41,442.72"/>
<text transform="translate(701.18,457.64) scale(0.1938,0.2129)" font-family='"Liberation Sans", sans-serif' font-weight="bold" font-size="100" fill="#111" stroke="#111" stroke-width="5.41" stroke-linejoin="round">5</text>
<polygon fill="#111" stroke="#111" stroke-width="0.5" stroke-linejoin="round" points="808.39,175.30 812.92,175.30 812.92,191.80 808.39,191.80 808.39,181.57 805.50,183.55 805.50,179.26 808.39,175.63"/>
<text transform="translate(817.30,191.03) scale(0.2068,0.2169)" font-family='"Liberation Sans", sans-serif' font-weight="bold" font-size="100" fill="#111" stroke="#111" stroke-width="5.19" stroke-linejoin="round">6</text>
<polygon fill="#111" stroke="#111" stroke-width="0.5" stroke-linejoin="round" points="811.09,318.50 815.62,318.50 815.62,335.00 811.09,335.00 811.09,324.77 808.20,326.75 808.20,322.46 811.09,318.83"/>
<text transform="translate(819.75,334.45) scale(0.2157,0.2232)" font-family='"Liberation Sans", sans-serif' font-weight="bold" font-size="100" fill="#111" stroke="#111" stroke-width="5.01" stroke-linejoin="round">7</text>
<polygon fill="#111" stroke="#111" stroke-width="0.5" stroke-linejoin="round" points="850.81,388.90 855.19,388.90 855.19,405.10 850.81,405.10 850.81,395.06 848.00,397.00 848.00,392.79 850.81,389.22"/>
<text transform="translate(859.57,404.34) scale(0.1958,0.2127)" font-family='"Liberation Sans", sans-serif' font-weight="bold" font-size="100" fill="#111" stroke="#111" stroke-width="5.39" stroke-linejoin="round">8</text>
<polygon fill="#111" stroke="#111" stroke-width="0.5" stroke-linejoin="round" points="951.66,212.80 956.12,212.80 956.12,229.80 951.66,229.80 951.66,219.26 948.80,221.30 948.80,216.88 951.66,213.14"/>
<text transform="translate(960.45,229.03) scale(0.2038,0.2239)" font-family='"Liberation Sans", sans-serif' font-weight="bold" font-size="100" fill="#111" stroke="#111" stroke-width="5.14" stroke-linejoin="round">9</text>
<text transform="translate(951.86,343.55) scale(0.1967,0.2357)" font-family='"Liberation Sans", sans-serif' font-weight="bold" font-size="100" fill="#111" stroke="#111" stroke-width="5.09" stroke-linejoin="round">2</text>
<text transform="translate(965.01,343.32) scale(0.1988,0.2324)" font-family='"Liberation Sans", sans-serif' font-weight="bold" font-size="100" fill="#111" stroke="#111" stroke-width="5.10" stroke-linejoin="round">0</text>
<text transform="translate(888.75,435.35) scale(0.2272,0.2271)" font-family='"Liberation Sans", sans-serif' font-weight="bold" font-size="100" fill="#111" stroke="#111" stroke-width="4.84" stroke-linejoin="round">2</text>
<polygon fill="#111" stroke="#111" stroke-width="0.5" stroke-linejoin="round" points="907.22,418.90 912.10,418.90 912.10,435.90 907.22,435.90 907.22,425.36 904.10,427.40 904.10,422.98 907.22,419.24"/>
<text transform="translate(602.32,620.43) scale(0.2082,0.2225)" font-family='"Liberation Sans", sans-serif' font-weight="bold" font-size="100" fill="#111" stroke="#111" stroke-width="5.11" stroke-linejoin="round">9</text>
<text transform="translate(536.59,743.23) scale(0.2202,0.2183)" font-family='"Liberation Sans", sans-serif' font-weight="bold" font-size="100" fill="#111" stroke="#111" stroke-width="5.02" stroke-linejoin="round">8</text>
<text transform="translate(718.53,625.85) scale(0.1828,0.2275)" font-family='"Liberation Sans", sans-serif' font-weight="bold" font-size="100" fill="#111" stroke="#111" stroke-width="5.36" stroke-linejoin="round">7</text>
<text transform="translate(718.02,743.63) scale(0.2082,0.2225)" font-family='"Liberation Sans", sans-serif' font-weight="bold" font-size="100" fill="#111" stroke="#111" stroke-width="5.11" stroke-linejoin="round">6</text>
<text transform="translate(839.28,599.93) scale(0.1580,0.2200)" font-family='"Liberation Sans", sans-serif' font-weight="bold" font-size="100" fill="#111" stroke="#111" stroke-width="5.82" stroke-linejoin="round">5</text>
<text transform="translate(769.19,752.45) scale(0.1757,0.2188)" font-family='"Liberation Sans", sans-serif' font-weight="bold" font-size="100" fill="#111" stroke="#111" stroke-width="5.58" stroke-linejoin="round">4</text>
<polygon fill="#111" stroke="#111" stroke-width="0.5" stroke-linejoin="round" points="928.41,572.00 932.80,572.00 932.80,588.00 928.41,588.00 928.41,578.08 925.60,580.00 925.60,575.84 928.41,572.32"/>
<text transform="translate(950.24,713.75) scale(0.2021,0.2171)" font-family='"Liberation Sans", sans-serif' font-weight="bold" font-size="100" fill="#111" stroke="#111" stroke-width="5.25" stroke-linejoin="round">2</text>
<text transform="translate(947.06,810.74) scale(0.1960,0.2141)" font-family='"Liberation Sans", sans-serif' font-weight="bold" font-size="100" fill="#111" stroke="#111" stroke-width="5.37" stroke-linejoin="round">3</text>
</svg></body></html>
